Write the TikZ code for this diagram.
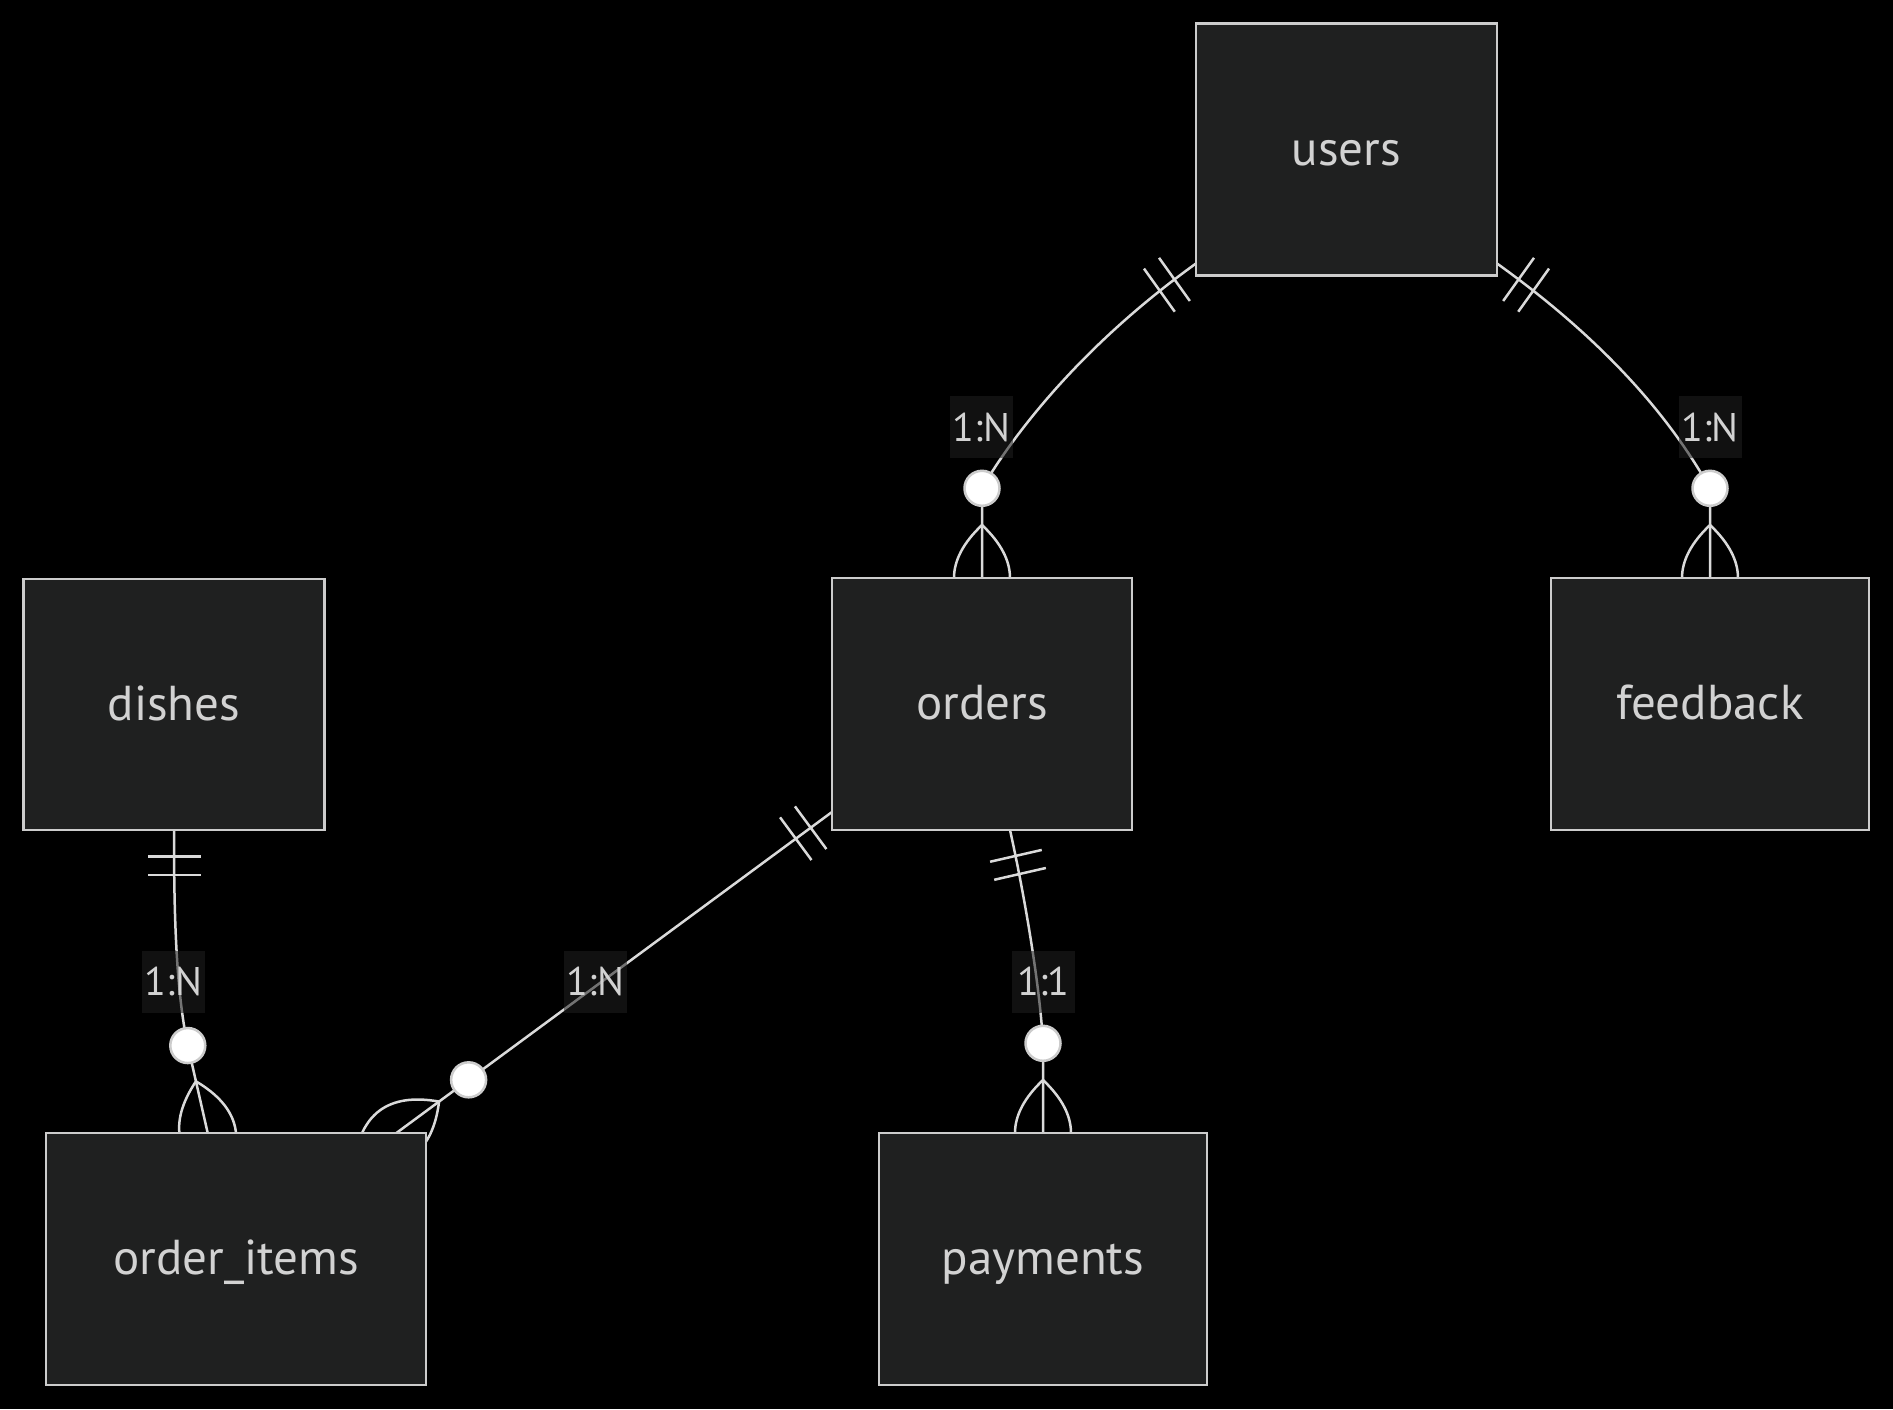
\documentclass[tikz,border=0pt]{standalone}
\usepackage{fontspec}
\setmainfont{PT Sans}
\usetikzlibrary{calc}
\definecolor{boxfill}{RGB}{31,32,32}
\definecolor{boxline}{RGB}{204,204,204}
\definecolor{linec}{RGB}{218,218,218}
\definecolor{txt}{RGB}{210,210,210}
\definecolor{lblfill}{RGB}{32,32,32}
\pgfdeclarelayer{back}
\pgfdeclarelayer{edges}
\pgfsetlayers{back,edges,main}
\newcommand\manyend[4]{%
  \begin{scope}[shift={(#1,#2)}, x={({(#3)*1pt},{-(#4)*1pt})}, y={({-(#4)*1pt},{-(#3)*1pt})}]
    \draw[rel] (-53,0) .. controls (-17.67,37.33) and (17.67,37.33) .. (53,0);
    \draw[rel] (-53,0) .. controls (-17.67,-37.33) and (17.67,-37.33) .. (53,0);
    \draw[dot] (-89.7,0) circle[radius=17.5pt];
  \end{scope}}
\newcommand\oneend[4]{%
  \begin{scope}[shift={(#1,#2)}, x={({(#3)*1pt},{-(#4)*1pt})}, y={({-(#4)*1pt},{-(#3)*1pt})}]
    \draw[rel] (26.5,-26.5) -- (26.5,26.5);
    \draw[rel] (45,-26.5) -- (45,26.5);
  \end{scope}}
\begin{document}
\begin{tikzpicture}[x=1pt,y=-1pt,
  entity/.style={draw=boxline, line width=2.6pt, fill=boxfill, text=txt,
    font=\fontsize{49}{56}\selectfont, inner sep=0pt, outer sep=0pt,
    text height=38pt, text depth=7pt},
  rel/.style={draw=linec, line width=2.5pt},
  lbl/.style={fill=lblfill, fill opacity=0.55, text opacity=1, text=txt,
    font=\fontsize{40}{46}\selectfont, minimum width=63pt, minimum height=62pt, inner sep=0pt},
  dot/.style={draw=boxline, fill=white, line width=2.5pt}]
\begin{pgfonlayer}{back}
\fill[black] (0,0) rectangle (1893,1409);
\end{pgfonlayer}
\useasboundingbox (0,0) rectangle (1893,1409);

% entities
\node[entity, minimum width=301pt, minimum height=252pt] (users) at (1346.5,149.5) {users};
\node[entity, minimum width=301pt, minimum height=251pt] (dishes) at (174,704.5) {dishes};
\node[entity, minimum width=300pt, minimum height=252pt] (orders) at (982,704) {orders};
\node[entity, minimum width=318pt, minimum height=252pt] (feedback) at (1710,704) {feedback};
\node[entity, minimum width=380pt, minimum height=252pt] (order_items) at (236,1259) {order\_items};
\node[entity, minimum width=328pt, minimum height=252pt] (payments) at (1043,1259) {payments};

% relationship labels
\node[lbl] (l1) at (981.5,427) {1:N};
\node[lbl] (l2) at (1710,427) {1:N};
\node[lbl] (l3) at (173.5,981.5) {1:N};
\node[lbl] (l4) at (595.5,981.5) {1:N};
\node[lbl] (l5) at (1043.5,981.5) {1:1};

\begin{pgfonlayer}{edges}
% users -> orders
\draw[rel] ($(users.south west)+(0,-12)$) .. controls (1074,351) and (1007.5,444) .. (982,488.3) -- (orders.north);
\oneend{1196}{264}{-0.814}{0.581}
\manyend{982}{578}{0}{1}
% users -> feedback
\draw[rel] ($(users.south east)+(0,-12)$) .. controls (1635.4,362.8) and (1687.5,449.3) .. (1710,488.3) -- (feedback.north);
\oneend{1497}{264}{0.814}{0.581}
\manyend{1710}{578}{0}{1}
% dishes -> order_items
\draw[rel] (dishes.south) .. controls (174,900) and (175,987) .. (187.8,1045.5) -- ($(order_items.north)+(-28.3,0)$);
\oneend{174}{830}{0}{1}
\manyend{207.7}{1133}{0.222}{0.975}
% orders -> order_items
\draw[rel] ($(orders.south west)+(0,-18)$) -- ($(order_items.north east)+(-29.6,0)$);
\oneend{832}{812}{-0.805}{0.593}
\manyend{396.4}{1133}{-0.805}{0.593}
% orders -> payments
\draw[rel] ($(orders.south)+(28,0)$) .. controls (1023.4,890.2) and (1039.7,982.7) .. (1043,1043.3) -- (payments.north);
\oneend{1010}{830}{0.223}{0.975}
\manyend{1043}{1133}{0}{1}
\end{pgfonlayer}
\end{tikzpicture}
\end{document}
